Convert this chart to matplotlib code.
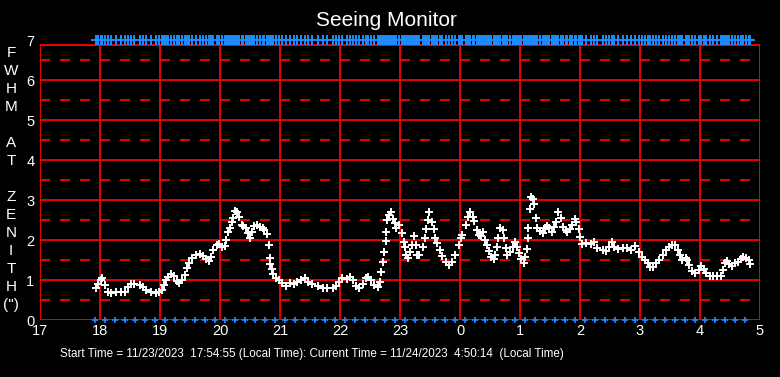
import matplotlib.pyplot as plt
import numpy as np

plt.rcParams['font.family'] = ['Liberation Sans', 'DejaVu Sans']
plt.rcParams['lines.scale_dashes'] = False

# time of each seeing sample (hours, past midnight continues as 24, 25, ...)
hours = [
    17.933, 17.97, 18.02, 18.04, 18.08, 18.13, 18.18, 18.27, 18.35, 18.41,
    18.46, 18.52, 18.57, 18.66, 18.71, 18.77, 18.85, 18.93, 18.99,
    19.04, 19.07, 19.10, 19.13, 19.18, 19.24, 19.28, 19.32, 19.36, 19.41,
    19.45, 19.49, 19.54, 19.60, 19.66, 19.71, 19.77, 19.81, 19.85, 19.89,
    19.95, 19.99,
    20.04, 20.08, 20.10, 20.14, 20.17, 20.20, 20.22, 20.25, 20.28, 20.32,
    20.36, 20.39, 20.43, 20.46, 20.50, 20.53, 20.57, 20.62, 20.66, 20.71,
    20.74, 20.78, 20.81, 20.83, 20.84, 20.86, 20.89, 20.93, 20.99,
    21.04, 21.10, 21.17, 21.23, 21.29, 21.35, 21.41, 21.46, 21.54, 21.63,
    21.71, 21.79, 21.88, 21.94, 21.99,
    22.04, 22.11, 22.16, 22.21, 22.27, 22.32, 22.38, 22.43, 22.46, 22.52,
    22.57, 22.63, 22.67, 22.69, 22.71, 22.73, 22.76, 22.77, 22.79, 22.82,
    22.85, 22.88, 22.91, 22.94, 22.99,
    23.03, 23.06, 23.08, 23.10, 23.13, 23.16, 23.20, 23.23, 23.27, 23.29,
    23.32, 23.38, 23.41, 23.43, 23.46, 23.49, 23.53, 23.56, 23.59, 23.62,
    23.66, 23.70, 23.76, 23.81, 23.87, 23.92, 23.98,
    24.02, 24.04, 24.10, 24.14, 24.17, 24.21, 24.24, 24.28, 24.31, 24.35,
    24.39, 24.42, 24.45, 24.48, 24.52, 24.56, 24.59, 24.62, 24.64, 24.67,
    24.71, 24.74, 24.77, 24.79, 24.83, 24.88, 24.92, 24.95, 24.98,
    25.02, 25.06, 25.09, 25.12, 25.13, 25.14, 25.16, 25.18, 25.21, 25.24,
    25.26, 25.29, 25.34, 25.38, 25.42, 25.45, 25.49, 25.53, 25.57, 25.60,
    25.64, 25.68, 25.71, 25.76, 25.79, 25.83, 25.87, 25.91, 25.94, 25.98,
    26.00, 26.04, 26.10, 26.18, 26.24, 26.29, 26.38, 26.43, 26.49, 26.53,
    26.57, 26.63, 26.71, 26.79, 26.85, 26.92, 26.98,
    27.03, 27.09, 27.13, 27.17, 27.21, 27.27, 27.32, 27.38, 27.43, 27.49,
    27.54, 27.59, 27.63, 27.66, 27.70, 27.76, 27.79, 27.82, 27.87, 27.92,
    27.98,
    28.02, 28.06, 28.10, 28.16, 28.22, 28.29, 28.35, 28.39, 28.41, 28.45,
    28.49, 28.53, 28.59, 28.64, 28.68, 28.72, 28.77, 28.81, 28.83,
]

# FWHM at zenith (arcsec)
fwhm = [
    0.81, 0.89, 1.00, 1.04, 0.875, 0.71, 0.67, 0.71, 0.71, 0.71,
    0.83, 0.89, 0.89, 0.875, 0.83, 0.75, 0.71, 0.68, 0.69,
    0.75, 0.875, 1.00, 1.08, 1.15, 1.11, 0.98, 0.92, 1.00, 1.125,
    1.29, 1.42, 1.56, 1.625, 1.64, 1.61, 1.525, 1.475, 1.58, 1.75,
    1.875, 1.89,
    1.83, 1.86, 2.00, 2.19, 2.31, 2.46, 2.56, 2.725, 2.71, 2.58,
    2.375, 2.35, 2.29, 2.17, 2.06, 2.21, 2.36, 2.375, 2.33, 2.29,
    2.25, 2.14, 1.87, 1.54, 1.39, 1.275, 1.14, 1.06, 1.00,
    0.92, 0.86, 0.92, 0.89, 0.94, 1.00, 1.04, 0.94, 0.90, 0.85,
    0.79, 0.79, 0.79, 0.85, 0.96,
    1.04, 1.02, 1.07, 1.00, 0.85, 0.79, 0.90, 1.04, 1.08, 1.00,
    0.875, 0.82, 0.96, 1.21, 1.46, 1.71, 1.98, 2.21, 2.50, 2.625,
    2.69, 2.52, 2.42, 2.29, 2.375,
    2.17, 1.96, 1.83, 1.625, 1.54, 1.71, 1.875, 2.10, 1.875, 1.625,
    1.625, 1.83, 2.04, 2.27, 2.50, 2.69, 2.46, 2.27, 2.04, 1.92,
    1.75, 1.60, 1.46, 1.375, 1.46, 1.625, 1.875,
    2.04, 2.125, 2.375, 2.58, 2.69, 2.58, 2.475, 2.25, 2.125, 2.11,
    2.21, 2.00, 1.875, 1.725, 1.58, 1.525, 1.625, 1.83, 2.06, 2.31,
    2.25, 2.04, 1.79, 1.625, 1.71, 1.83, 1.96, 1.83, 1.67,
    1.525, 1.42, 1.58, 1.775, 2.04, 2.31, 2.77, 3.08, 3.02, 2.89,
    2.54, 2.31, 2.225, 2.17, 2.29, 2.36, 2.29, 2.21, 2.33, 2.46,
    2.71, 2.54, 2.33, 2.25, 2.21, 2.27, 2.375, 2.52, 2.46, 2.27,
    2.08, 1.89, 1.92, 1.89, 1.96, 1.81, 1.75, 1.73, 1.83, 1.96,
    1.83, 1.775, 1.79, 1.81, 1.75, 1.86, 1.71,
    1.58, 1.50, 1.42, 1.33, 1.33, 1.42, 1.50, 1.625, 1.75, 1.83,
    1.875, 1.875, 1.75, 1.625, 1.50, 1.54, 1.50, 1.375, 1.225, 1.17,
    1.25,
    1.35, 1.275, 1.17, 1.10, 1.10, 1.11, 1.11, 1.25, 1.42, 1.475,
    1.39, 1.36, 1.42, 1.46, 1.525, 1.58, 1.54, 1.50, 1.39,
]

tick_hours = list(range(17, 30))
tick_labels = ['17', '18', '19', '20', '21', '22', '23',
               '0', '1', '2', '3', '4', '5']
y_ticks = list(range(0, 8))
ylabel_letters = ['F', 'W', 'H', 'M', '', 'A', 'T', '',
                  'Z', 'E', 'N', 'I', 'T', 'H', '(")']

start_hour = 17 + 54 / 60 + 55 / 3600
current_hour = 24 + 4 + 50 / 60 + 14 / 3600
# blue markers along the bottom every 10 minutes from the start time
ten_min_marks = np.arange(start_hour, current_hour, 10 / 60)

blue = '#1e8cff'
top = 6.875

fig = plt.figure(figsize=(7.8, 3.77), dpi=100, facecolor='black')
ax = fig.add_axes([40 / 780, 57 / 377, 720 / 780, 280 / 377])
ax.set_facecolor('black')
ax.set_xlim(17, 29)
ax.set_ylim(0, 7)
for s in ax.spines.values():
    s.set_visible(False)

# grid / frame
ax.vlines(tick_hours, 0, top, color='red', lw=1.3, zorder=1)
ax.hlines(y_ticks[:-1] + [top], 17, 29, color='red', lw=1.3, zorder=1)
ax.hlines([y + 0.5 for y in y_ticks[:-1]], 17, 29, color='red', lw=1.3,
          linestyle=(0, (7.2, 7.2)), zorder=1)

# data
ax.plot(hours, fwhm, '+', color='white', ms=6, mew=1.4, zorder=3)
ax.plot(hours, [7] * len(hours), '+', color=blue, ms=6.5, mew=1.4,
        clip_on=False, zorder=3)
ax.plot(ten_min_marks, [0] * len(ten_min_marks), '+', color=blue, ms=5,
        mew=1.2, clip_on=False, zorder=3)

ax.set_xticks(tick_hours, tick_labels)
ax.set_yticks(y_ticks)
ax.tick_params(colors='white', length=0, labelsize=10.5)
ax.tick_params(axis='x', pad=3)
ax.tick_params(axis='y', pad=4)

fig.text(0.495, 1 - 20 / 377, 'Seeing Monitor', color='white', fontsize=15,
         ha='center', va='center')

for i, letter in enumerate(ylabel_letters):
    fig.text(11 / 780, 1 - (53 + 18 * i) / 377, letter, color='white',
             fontsize=11, ha='center', va='center')

fig.text(60 / 780, 1 - 354 / 377,
         'Start Time = 11/23/2023  17:54:55 (Local Time): Current Time = '
         '11/24/2023  4:50:14  (Local Time)',
         color='white', fontsize=8.4, ha='left', va='center')

fig.savefig('out.png', dpi=100, facecolor='black')
